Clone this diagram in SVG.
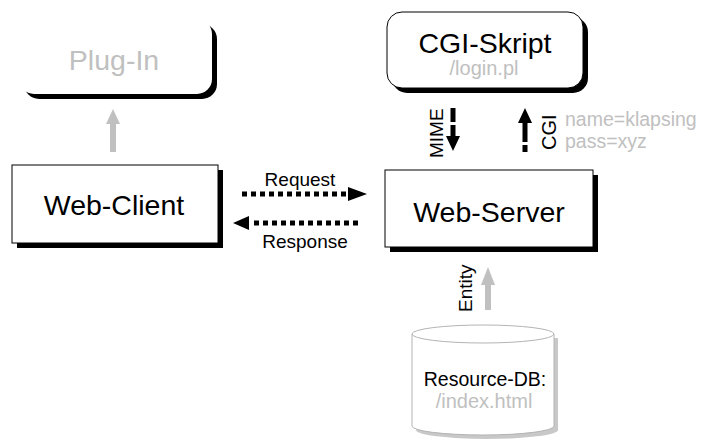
<svg xmlns="http://www.w3.org/2000/svg" width="704" height="439" viewBox="0 0 704 439">
  <style>
    text { font-family: "Liberation Sans", Arial, sans-serif; }
    .big { font-size: 28.5px; text-anchor: middle; fill: #000; }
    .sub { font-size: 20px; text-anchor: middle; fill: #c0c0c0; }
    .lbl { font-size: 19px; fill: #000; }
    .note { font-size: 19.5px; fill: #c0c0c0; }
    .box { fill: #fff; stroke: #000; stroke-width: 1; }
    .shadow { fill: #000; }
    .dot { stroke: #000; stroke-width: 5; stroke-dasharray: 5 4; fill: none; }
    .dash { stroke: #000; stroke-width: 5; fill: none; }
    .grey { stroke: #c0c0c0; stroke-width: 6; fill: none; }
  </style>

  <!-- Plug-In -->
  <g id="plugin">
    <rect x="24" y="24" width="193" height="75" rx="15" class="shadow"/>
    <rect x="19" y="19" width="193" height="75" rx="15" fill="#fff"/>
    <text x="114" y="70" class="big" style="fill:#c0c0c0">Plug-In</text>
  </g>

  <!-- CGI-Skript -->
  <g id="cgi-skript">
    <rect x="392" y="17" width="196" height="76" rx="15" class="shadow"/>
    <rect x="387" y="12" width="196" height="76" rx="15" class="box"/>
    <text x="485" y="53" class="big">CGI-Skript</text>
    <text x="484" y="75" class="sub">/login.pl</text>
  </g>

  <!-- Web-Client -->
  <g id="web-client">
    <rect x="17" y="170" width="206" height="78" class="shadow"/>
    <rect x="12" y="165" width="206" height="78" class="box"/>
    <text x="114" y="215" class="big">Web-Client</text>
  </g>

  <!-- Web-Server -->
  <g id="web-server">
    <rect x="390" y="175" width="208" height="77" class="shadow"/>
    <rect x="385" y="170" width="208" height="77" class="box"/>
    <text x="489" y="222" class="big">Web-Server</text>
  </g>

  <!-- Resource-DB -->
  <g id="resource-db">
    <path d="M416,338 L416,430 A71,9 0 0 0 558,430 L558,338 Z" fill="#c8c8c8"/>
    <path d="M412,334 L412,426 A71,9 0 0 0 554,426 L554,334 A71,9 0 0 0 412,334 Z" fill="#fff" stroke="#b4b4b4" stroke-width="1"/>
    <path d="M412,334 A71,9 0 0 0 554,334" fill="none" stroke="#b4b4b4" stroke-width="1"/>
    <text x="485" y="386" class="big" style="font-size:19.5px">Resource-DB:</text>
    <text x="484" y="408" class="sub">/index.html</text>
  </g>

  <!-- Connectors -->
  <g id="connectors">
    <!-- Plug-In link -->
    <line x1="113" y1="152" x2="113" y2="123" class="grey"/>
    <path d="M106,124 L113,109 L120,124 Z" fill="#c0c0c0"/>

    <!-- Request / Response -->
    <line x1="242" y1="194" x2="349" y2="194" class="dot"/>
    <path d="M348,187 L367,194 L348,201 Z" fill="#000"/>
    <text x="300" y="186" class="lbl" text-anchor="middle">Request</text>

    <line x1="358" y1="223" x2="250" y2="223" class="dot"/>
    <path d="M249,216 L233,223 L249,230 Z" fill="#000"/>
    <text x="305" y="248" class="lbl" text-anchor="middle">Response</text>

    <!-- MIME down -->
    <line x1="453" y1="108" x2="453" y2="122" class="dash"/>
    <line x1="453" y1="125" x2="453" y2="137" class="dash"/>
    <path d="M446,136 L453,151 L460,136 Z" fill="#000"/>
    <text transform="translate(443,158) rotate(-90)" class="lbl">MIME</text>

    <!-- CGI up -->
    <line x1="525" y1="152" x2="525" y2="145" class="dash"/>
    <line x1="525" y1="142" x2="525" y2="122" class="dash"/>
    <path d="M518,123 L525,108 L532,123 Z" fill="#000"/>
    <text transform="translate(556,150) rotate(-90)" class="lbl" style="font-size:20px">CGI</text>
    <text x="565" y="126" class="note">name=klapsing</text>
    <text x="565" y="148" class="note">pass=xyz</text>

    <!-- Entity up -->
    <line x1="488" y1="310" x2="488" y2="284" class="grey"/>
    <path d="M481,285 L488,267 L495,285 Z" fill="#c0c0c0"/>
    <text transform="translate(472,312) rotate(-90)" class="lbl">Entity</text>
  </g>
</svg>
